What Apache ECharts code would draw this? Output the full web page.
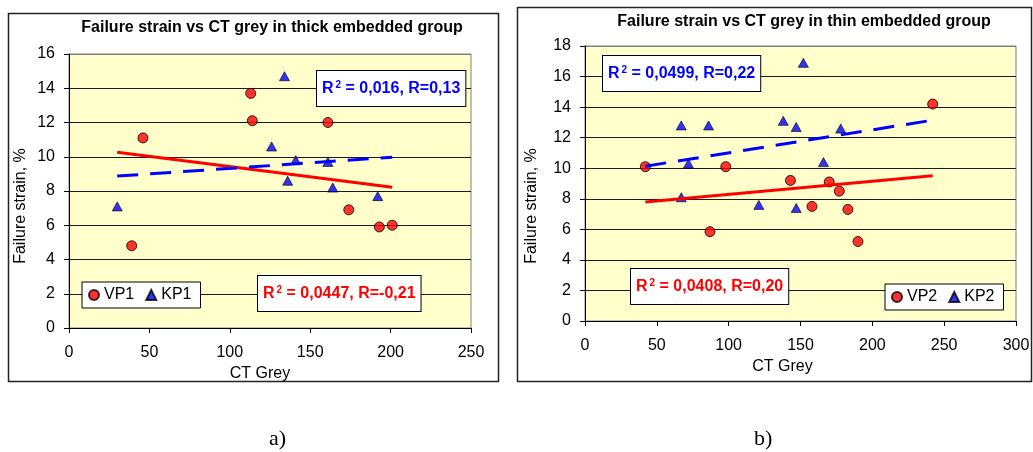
<!DOCTYPE html>
<html>
<head>
<meta charset="utf-8">
<title>Failure strain vs CT grey</title>
<script src="https://cdn.jsdelivr.net/npm/echarts@6/dist/echarts.min.js"></script>
<style>
  html, body { margin: 0; padding: 0; background: #ffffff; }
  #chart { width: 1033px; height: 452px; }
</style>
</head>
<body>
<div id="chart"></div>
<script>
// ---- data: thick embedded group (a) ----
const vp1X = [39, 46, 113, 114, 161, 174, 193, 201];
const vp1Y = [4.8, 11.1, 13.7, 12.1, 12.0, 6.9, 5.9, 6.0];
const kp1X = [30, 126, 134, 136, 141, 161, 164, 192];
const kp1Y = [7.1, 10.6, 14.7, 8.6, 9.8, 9.7, 8.2, 7.7];

// ---- data: thin embedded group (b) ----
const vp2X = [42, 87, 98, 143, 158, 170, 177, 183, 190, 242];
const vp2Y = [10.1, 5.85, 10.1, 9.2, 7.5, 9.1, 8.5, 7.3, 5.2, 14.2];
const kp2X = [67, 67, 72, 86, 121, 138, 147, 147, 152, 166, 178];
const kp2Y = [12.8, 8.1, 10.3, 12.8, 7.6, 13.1, 12.7, 7.4, 16.9, 10.4, 12.6];

// ---- texts ----
const chartTitles = ['Failure strain vs CT grey in thick embedded group',
                     'Failure strain vs CT grey in thin embedded group'];
const seriesNames = [['VP1', 'KP1'], ['VP2', 'KP2']];
const fitTexts = [['= 0,0447, R=-0,21', '= 0,016, R=0,13'],
                  ['= 0,0408, R=0,20', '= 0,0499, R=0,22']];
const panelLabels = ['a)', 'b)'];
const xAxisName = 'CT Grey';
const yAxisName = 'Failure strain, %';

const FONT = '"Liberation Sans", Arial, sans-serif';
const SERIF = '"Liberation Serif", "DejaVu Serif", serif';
const RED = '#ff0000';
const BLUE = '#0000ff';

function pairs(xs, ys) { return xs.map((x, i) => [x, ys[i]]); }

// least-squares trend line spanning the x range of both groups in a panel
function trend(xs, ys, x0, x1) {
  const n = xs.length;
  const mx = xs.reduce((a, b) => a + b, 0) / n;
  const my = ys.reduce((a, b) => a + b, 0) / n;
  let sxy = 0, sxx = 0;
  for (let i = 0; i < n; i++) { sxy += (xs[i] - mx) * (ys[i] - my); sxx += (xs[i] - mx) ** 2; }
  const k = sxy / sxx, b = my - k * mx;
  return [[x0, k * x0 + b], [x1, k * x1 + b]];
}

const spanA = [Math.min(...vp1X, ...kp1X), Math.max(...vp1X, ...kp1X)];
const spanB = [Math.min(...vp2X, ...kp2X), Math.max(...vp2X, ...kp2X)];

function xAxisCfg(grid, max, namePad) {
  return {
    type: 'value', gridIndex: grid, min: 0, max: max, interval: 50,
    axisLine: { show: true, lineStyle: { color: '#000', width: 1 } },
    axisTick: { show: true, length: 5, lineStyle: { color: '#000' } },
    axisLabel: { fontSize: 16, color: '#000', fontFamily: FONT, margin: 17 },
    splitLine: { show: false },
    name: xAxisName, nameLocation: 'middle', nameGap: 34,
    nameTextStyle: { fontSize: 16, color: '#000', fontFamily: FONT, padding: [0, namePad, 0, 0] }
  };
}

function yAxisCfg(grid, max, gap, namePad) {
  const lines = max / 2 + 1;
  const colors = [];
  for (let i = 0; i < lines; i++) colors.push(i === lines - 1 ? '#808080' : '#1a1a1a');
  return {
    type: 'value', gridIndex: grid, min: 0, max: max, interval: 2,
    axisLine: { show: true, lineStyle: { color: '#000', width: 1 } },
    axisTick: { show: true, length: 5, lineStyle: { color: '#000' } },
    axisLabel: { fontSize: 16, color: '#000', fontFamily: FONT, margin: 14 },
    splitLine: { show: true, lineStyle: { color: colors, width: 1 } },
    name: yAxisName, nameLocation: 'middle', nameGap: gap,
    nameTextStyle: { fontSize: 16, color: '#000', fontFamily: FONT, padding: [0, namePad, 0, 0] }
  };
}

function circleSeries(name, idx, data) {
  return {
    name: name, type: 'scatter', xAxisIndex: idx, yAxisIndex: idx, data: data,
    symbol: 'circle', symbolSize: 10, z: 3,
    itemStyle: { color: RED, borderColor: '#000', borderWidth: 1 }
  };
}
function triSeries(name, idx, data) {
  return {
    name: name, type: 'scatter', xAxisIndex: idx, yAxisIndex: idx, data: data,
    symbol: 'triangle', symbolSize: [10, 9], z: 3,
    itemStyle: { color: BLUE, borderColor: '#000', borderWidth: 0.8 }
  };
}
function trendSeries(idx, data, color, dashed) {
  return {
    type: 'line', xAxisIndex: idx, yAxisIndex: idx, data: data,
    showSymbol: false, symbol: 'none', silent: true, z: 4,
    lineStyle: { color: color, width: 3, cap: 'butt', type: dashed ? [21, 12] : 'solid' }
  };
}

function fitBox(x, y, value, color) {
  return {
    type: 'text', left: x, top: y, z: 100,
    style: {
      text: '{r|R}{s|2}{r| ' + value + '}',
      rich: {
        r: { fontSize: 16, lineHeight: 18, fontWeight: 'bold', fontFamily: FONT, fill: color },
        s: { fontSize: 10, lineHeight: 10, fontWeight: 'bold', fontFamily: FONT, fill: color,
             verticalAlign: 'top', padding: [0, 0, 0, 2] }
      },
      backgroundColor: '#ffffff', borderColor: '#000000', borderWidth: 1,
      padding: [9, 5, 8, 5]
    }
  };
}

function legendCfg(names, left, top) {
  return {
    data: names, left: left, top: top, orient: 'horizontal',
    itemWidth: 10, itemHeight: 10, itemGap: 11,
    padding: [5, 9, 5, 6], borderColor: '#000', borderWidth: 1,
    backgroundColor: '#ffffff', selectedMode: false, z: 10,
    textStyle: { fontSize: 16, color: '#000', fontFamily: FONT }
  };
}

const chart = echarts.init(document.getElementById('chart'), null, { renderer: 'canvas' });

chart.setOption({
  animation: false,
  backgroundColor: '#ffffff',
  title: [
    { text: chartTitles[0], left: 272, top: 20, textAlign: 'center', padding: 0,
      textStyle: { fontSize: 16, fontWeight: 'bold', color: '#000', fontFamily: FONT } },
    { text: chartTitles[1], left: 804, top: 14, textAlign: 'center', padding: 0,
      textStyle: { fontSize: 16, fontWeight: 'bold', color: '#000', fontFamily: FONT } }
  ],
  grid: [
    { left: 69, top: 54, width: 402, height: 274, show: true,
      backgroundColor: '#ffffcc', borderColor: '#808080', borderWidth: 1 },
    { left: 585, top: 46, width: 431, height: 275, show: true,
      backgroundColor: '#ffffcc', borderColor: '#808080', borderWidth: 1 }
  ],
  xAxis: [xAxisCfg(0, 250, 20), xAxisCfg(1, 300, 36)],
  yAxis: [yAxisCfg(0, 16, 40, 30), yAxisCfg(1, 18, 45, 45)],
  legend: [legendCfg(seriesNames[0], 82, 282), legendCfg(seriesNames[1], 885, 284)],
  series: [
    circleSeries(seriesNames[0][0], 0, pairs(vp1X, vp1Y)),
    triSeries(seriesNames[0][1], 0, pairs(kp1X, kp1Y)),
    trendSeries(0, trend(vp1X, vp1Y, spanA[0], spanA[1]), RED, false),
    trendSeries(0, trend(kp1X, kp1Y, spanA[0], spanA[1]), BLUE, true),
    circleSeries(seriesNames[1][0], 1, pairs(vp2X, vp2Y)),
    triSeries(seriesNames[1][1], 1, pairs(kp2X, kp2Y)),
    trendSeries(1, trend(vp2X, vp2Y, spanB[0], spanB[1]), RED, false),
    trendSeries(1, trend(kp2X, kp2Y, spanB[0], spanB[1]), BLUE, true)
  ],
  graphic: [
    { type: 'rect', z: 0, silent: true,
      shape: { x: 8.5, y: 13.5, width: 490, height: 368 },
      style: { fill: 'none', stroke: '#222', lineWidth: 1.5 } },
    { type: 'rect', z: 0, silent: true,
      shape: { x: 517.5, y: 7.5, width: 514, height: 374 },
      style: { fill: 'none', stroke: '#222', lineWidth: 1.5 } },
    fitBox(316, 70, fitTexts[0][1], BLUE),
    fitBox(257, 275, fitTexts[0][0], RED),
    fitBox(602, 55, fitTexts[1][1], BLUE),
    fitBox(630, 268, fitTexts[1][0], RED),
    { type: 'text', left: 269, top: 428, z: 100,
      style: { text: panelLabels[0], fontSize: 22, fontFamily: SERIF, fill: '#000' } },
    { type: 'text', left: 754, top: 428, z: 100,
      style: { text: panelLabels[1], fontSize: 22, fontFamily: SERIF, fill: '#000' } }
  ]
});
</script>
</body>
</html>
